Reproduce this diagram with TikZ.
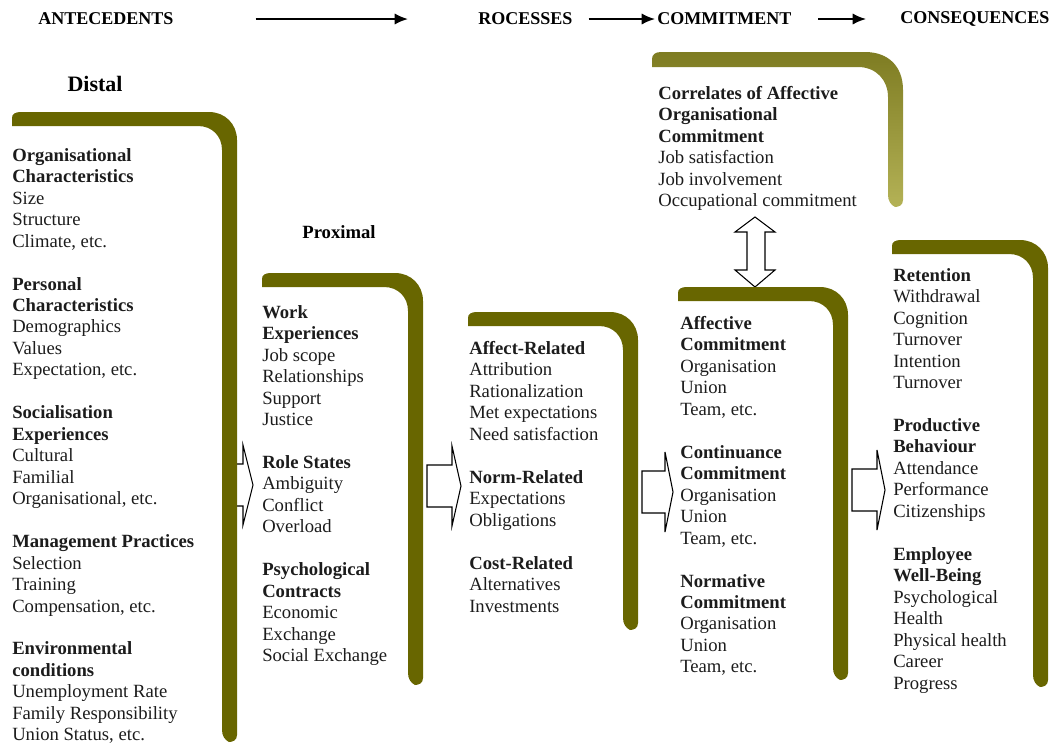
\documentclass[tikz,border=0pt]{standalone}
\usepackage{fontspec}
\setmainfont{Liberation Serif}
\usetikzlibrary{arrows.meta}
\usepackage{xcolor}
\definecolor{olivedk}{RGB}{104,102,0}
\definecolor{olivetop}{RGB}{126,124,34}
\definecolor{olivelt}{RGB}{180,178,86}
\definecolor{inkgrey}{RGB}{28,28,28}

\tikzset{
  olivebar/.style={fill=olivedk},
  listtext/.style={anchor=north west, align=left, inner sep=0pt, text=inkgrey,
    font=\fontsize{14}{16.1}\selectfont},
  header/.style={anchor=west, inner sep=0pt, font=\fontsize{13.5}{16}\selectfont\bfseries},
  hdrarrow/.style={-{Latex[length=10pt,width=8.5pt]}, line width=1.5pt},
  blockarrow/.style={draw=black, fill=white, line width=0.8pt, line join=miter},
}

\begin{document}
\begin{tikzpicture}[x=0.75pt, y=-0.75pt]
  \useasboundingbox (0,0) rectangle (1055,743);

  % stage headings
  \node[header] (antec) at (38,19) {ANTECEDENTS};
  \node[header] (proc) at (478,19) {ROCESSES};
  \node[header] (commit) at (657,19) {COMMITMENT};
  \node[header] (conseq) at (900,19) {CONSEQUENCES};
  \draw[hdrarrow, shorten <=61.5pt, shorten >=52.5pt] (antec) -- (proc);
  \draw[hdrarrow, shorten <=12pt, shorten >=1.5pt] (proc) -- (commit);
  \draw[hdrarrow, shorten <=20pt, shorten >=25.5pt] (commit) -- (conseq);

  \node[inner sep=0pt, font=\fontsize{16.5}{18}\selectfont\bfseries] (distal) at (95,84) {Distal};
  \node[inner sep=0pt, font=\fontsize{14}{16}\selectfont\bfseries] (proximal) at (339,232) {Proximal};

  % hollow block arrows between columns
  \foreach \xa/\xb/\xc/\ym in {236/243/253/485, 427/452/461/486, 642/665/673/492, 852/877/885/490}
    \draw[blockarrow] (\xa,\ym-21) -- (\xb,\ym-21) -- (\xb,\ym-40) -- (\xc,\ym)
      -- (\xb,\ym+40) -- (\xb,\ym+21) -- (\xa,\ym+21) -- cycle;
  \draw[blockarrow] (755,217) -- (775,232) -- (765,232) -- (765,270) -- (775,270)
    -- (755,287) -- (735,270) -- (747,270) -- (747,232) -- (735,232) -- cycle;

  % olive frames (left, top, right, bottom)
  \foreach \bl/\bt/\br/\bb in {12/112/237/742, 262/273/423/685, 468/312/638/630,
                               678/287/848/680, 892/240/1048/687}
    \fill[olivebar] (\bl,\bt+14) -- (\bl,\bt+6) .. controls (\bl,\bt+2) and (\bl+3,\bt) .. (\bl+9,\bt)
      -- (\br-28,\bt) .. controls (\br-12,\bt) and (\br,\bt+12) .. (\br,\bt+28)
      -- (\br,\bb-7) .. controls (\br,\bb-2) and (\br-4,\bb) .. (\br-8,\bb)
      .. controls (\br-12,\bb-2) and (\br-15,\bb-6) .. (\br-15,\bb-12)
      -- (\br-15,\bt+38) .. controls (\br-15,\bt+24) and (\br-25,\bt+14) .. (\br-39,\bt+14)
      -- cycle;
  \shade[top color=olivetop, bottom color=olivelt]
    (652,67) -- (652,59) .. controls (652,55) and (655,52) .. (661,52)
      -- (865,52) .. controls (888,52) and (903,66) .. (903,90)
      -- (903,200) .. controls (903,205) and (899,207) .. (895,207)
      .. controls (891,205) and (888,201) .. (888,195)
      -- (888,97) .. controls (888,80) and (876,67) .. (858,67)
      -- cycle;

  % column texts
  \node[listtext] (correl) at (658,86) {\textbf{Correlates of Affective}\\ \textbf{Organisational}\\
    \textbf{Commitment}\\ Job satisfaction\\ Job involvement\\ Occupational commitment};
  \node[listtext] (antlist) at (12,148) {\textbf{Organisational}\\ \textbf{Characteristics}\\
    Size\\ Structure\\ Climate, etc.\\[16.1pt]
    \textbf{Personal}\\ \textbf{Characteristics}\\ Demographics\\ Values\\ Expectation, etc.\\[16.1pt]
    \textbf{Socialisation}\\ \textbf{Experiences}\\ Cultural\\ Familial\\ Organisational, etc.\\[16.1pt]
    \textbf{Management Practices}\\ Selection\\ Training\\ Compensation, etc.\\[16.1pt]
    \textbf{Environmental}\\ \textbf{conditions}\\ Unemployment Rate\\ Family Responsibility\\
    Union Status, etc.};
  \node[listtext] (proxlist) at (262,305) {\textbf{Work}\\ \textbf{Experiences}\\ Job scope\\
    Relationships\\ Support\\ Justice\\[16.1pt]
    \textbf{Role States}\\ Ambiguity\\ Conflict\\ Overload\\[16.1pt]
    \textbf{Psychological}\\ \textbf{Contracts}\\ Economic\\ Exchange\\ Social Exchange};
  \node[listtext] (proclist) at (469,341) {\textbf{Affect-Related}\\ Attribution\\ Rationalization\\
    Met expectations\\ Need satisfaction\\[16.1pt]
    \textbf{Norm-Related}\\ Expectations\\ Obligations\\[16.1pt]
    \textbf{Cost-Related}\\ Alternatives\\ Investments};
  \node[listtext] (commlist) at (680,316) {\textbf{Affective}\\ \textbf{Commitment}\\ Organisation\\
    Union\\ Team, etc.\\[16.1pt]
    \textbf{Continuance}\\ \textbf{Commitment}\\ Organisation\\ Union\\ Team, etc.\\[16.1pt]
    \textbf{Normative}\\ \textbf{Commitment}\\ Organisation\\ Union\\ Team, etc.};
  \node[listtext] (conslist) at (893,268) {\textbf{Retention}\\ Withdrawal\\ Cognition\\ Turnover\\
    Intention\\ Turnover\\[16.1pt]
    \textbf{Productive}\\ \textbf{Behaviour}\\ Attendance\\ Performance\\ Citizenships\\[16.1pt]
    \textbf{Employee}\\ \textbf{Well-Being}\\ Psychological\\ Health\\ Physical health\\ Career\\
    Progress};
\end{tikzpicture}
\end{document}
